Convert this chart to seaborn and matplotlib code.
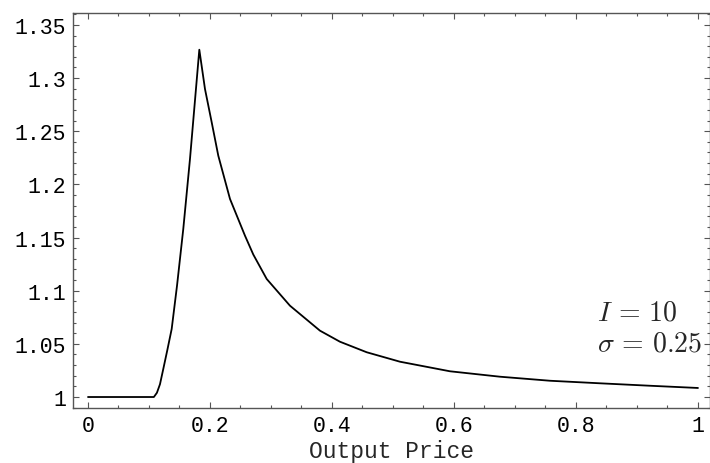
import numpy as np
import pandas as pd
import matplotlib
matplotlib.use("Agg")
import matplotlib.pyplot as plt
import seaborn as sns
from matplotlib.ticker import MultipleLocator

# Valores
price = [0.0, 0.05, 0.10, 0.108, 0.113, 0.118, 0.1234, 0.1300, 0.1372,
         0.1460, 0.1562, 0.1672, 0.1825, 0.1918, 0.2028, 0.2136, 0.2328,
         0.2574, 0.2710, 0.2930, 0.3311, 0.3803, 0.4131, 0.4569, 0.5115,
         0.5934, 0.6754, 0.7574, 0.8393, 0.9213, 1.0]
ratio = [1.0, 1.0, 1.0, 1.0, 1.004, 1.012, 1.0263, 1.0440, 1.0640,
         1.1050, 1.1580, 1.2239, 1.3267, 1.2897, 1.2584, 1.2270, 1.1863,
         1.1517, 1.1340, 1.1110, 1.0859, 1.0624, 1.0520, 1.0421, 1.0332,
         1.0242, 1.0191, 1.0153, 1.0129, 1.0106, 1.0085]
y_ticks = [1, 1.05, 1.1, 1.15, 1.2, 1.25, 1.3, 1.35]
y_labels = ["1", "1.05", "1.1", "1.15", "1.2", "1.25", "1.3", "1.35"]
x_ticks = [0, 0.2, 0.4, 0.6, 0.8, 1]
x_labels = ["0", "0.2", "0.4", "0.6", "0.8", "1"]

df = pd.DataFrame({"price": price, "ratio": ratio})

sns.set_style("ticks")
plt.rcParams["font.family"] = ["Liberation Mono", "DejaVu Sans Mono"]
plt.rcParams["mathtext.fontset"] = "cm"

fig = plt.figure(figsize=(7.1, 4.64), dpi=100)
ax = fig.add_axes([0.1028, 0.1185, 0.8965, 0.8513])

sns.lineplot(data=df, x="price", y="ratio", color="black", linewidth=1.3,
             estimator=None, sort=False, ax=ax)

ax.set_xlim(-0.0246, 1.0189)
ax.set_ylim(0.98965, 1.3612)
ax.set_xticks(x_ticks)
ax.set_xticklabels(x_labels)
ax.set_yticks(y_ticks)
ax.set_yticklabels(y_labels)
ax.xaxis.set_minor_locator(MultipleLocator(0.05))
ax.yaxis.set_minor_locator(MultipleLocator(0.01))

for s in ax.spines.values():
    s.set_visible(True)
    s.set_color("#555555")
    s.set_linewidth(1.0)

ax.tick_params(which="both", direction="in", top=True, right=True,
               color="#555555", width=0.8, labelsize=15.5, labelcolor="black")
ax.tick_params(which="major", length=4.5, pad=5)
ax.tick_params(which="minor", length=2.5)

ax.set_xlabel("Output Price", fontsize=16.5, labelpad=2)
ax.set_ylabel("")

ax.text(0.834, 1.0727, r"$I\,=\,10$", fontsize=20, va="baseline", ha="left")
ax.text(0.834, 1.0436, r"$\sigma\,=\,0.25$", fontsize=20, va="baseline", ha="left")

fig.savefig("out.png", dpi=100)
